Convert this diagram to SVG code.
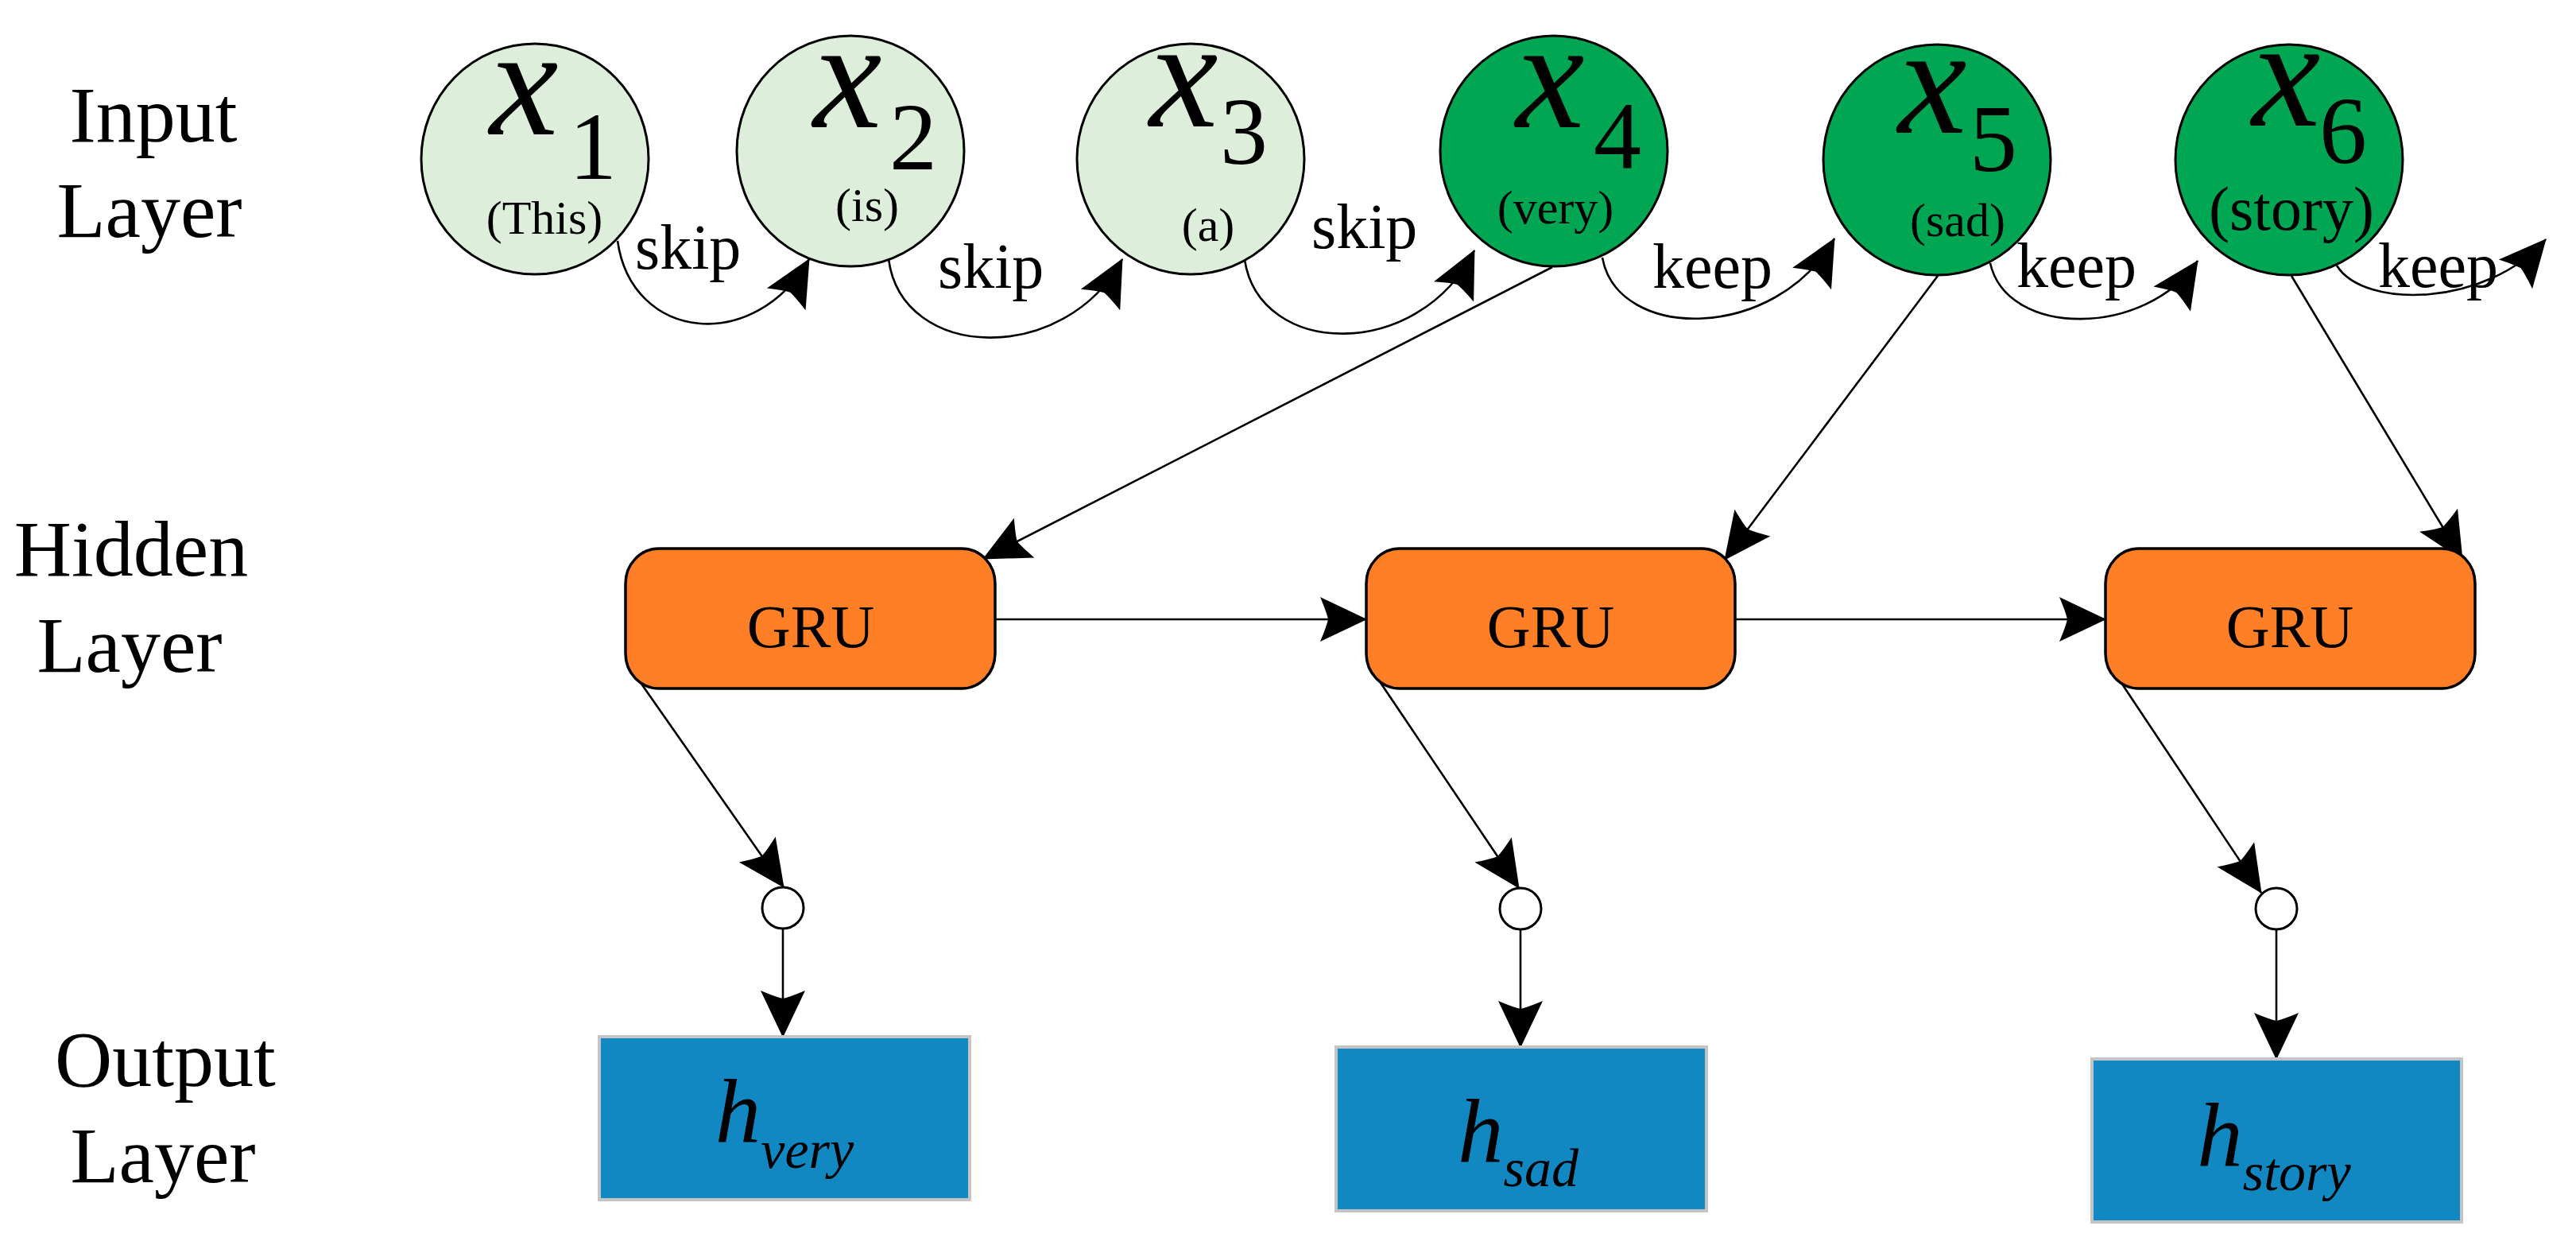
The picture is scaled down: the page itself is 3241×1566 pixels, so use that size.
<svg xmlns="http://www.w3.org/2000/svg" width="3241" height="1566" viewBox="0 0 3241 1566">
<style>
text{font-family:"Liberation Serif","Times New Roman",serif;fill:#000}
.lbl{font-size:100px;text-anchor:middle}
.var{font-size:195px;font-style:italic}
.sub{font-size:120px}
.word{font-size:60px;text-anchor:middle}
.edge{font-size:80px}
.gru{font-size:76px;text-anchor:middle}
.h{font-size:115px;font-style:italic;text-anchor:middle}
.hs{font-size:68px}
.light{fill:#DDEFDB;stroke:#000;stroke-width:3}
.dark{fill:#00A651;stroke:#000;stroke-width:3}
.gbox{fill:#FF7F27;stroke:#000;stroke-width:3.5}
.obox{fill:#1188C2;stroke:#C4C4C4;stroke-width:4}
.dot{fill:#fff;stroke:#000;stroke-width:3}
.con{fill:none;stroke:#000;stroke-width:2.6;marker-end:url(#arr)}
</style>
<defs>
<marker id="arr" markerUnits="userSpaceOnUse" orient="auto" viewBox="-60 -30 62 60" markerWidth="62" markerHeight="60" refX="0" refY="0" overflow="visible">
<path d="M1,0 L-58,-28 Q-50,-9 -48,0 Q-50,9 -58,28 Z" fill="#000"/>
</marker>
</defs>

<g id="layer-labels">
<text class="lbl" x="193" y="178">Input</text>
<text class="lbl" x="188" y="298">Layer</text>
<text class="lbl" x="165" y="724">Hidden</text>
<text class="lbl" x="163" y="845">Layer</text>
<text class="lbl" x="208" y="1366">Output</text>
<text class="lbl" x="205" y="1487">Layer</text>
</g>

<g id="connectors">
<path class="con" d="M777,303 C795,430 950,445 1018,326"/>
<path class="con" d="M1118,326 C1135,455 1340,460 1412,326"/>
<path class="con" d="M1566,327 C1585,450 1785,455 1855,315"/>
<path class="con" d="M2016,324 C2035,430 2235,430 2308,300"/>
<path class="con" d="M2504,331 C2525,425 2700,425 2765,328"/>
<path class="con" d="M2940,334 C2975,390 3130,385 3203,301"/>
<path class="con" d="M1953,336 L1237,703"/>
<path class="con" d="M2438,347 L2170,704"/>
<path class="con" d="M2883,347 L3098,704"/>
<path class="con" d="M1252,779 L1719,779"/>
<path class="con" d="M2183,779 L2649,779"/>
<path class="con" d="M802,853 L986,1116"/>
<path class="con" d="M1731,850 L1911,1117"/>
<path class="con" d="M2663,850 L2845,1123"/>
<path class="con" d="M985,1168 L985,1304"/>
<path class="con" d="M1913,1169 L1913,1317"/>
<path class="con" d="M2864,1169 L2864,1332"/>
<text class="edge" x="799" y="338">skip</text>
<text class="edge" x="1180" y="362">skip</text>
<text class="edge" x="1650" y="312">skip</text>
<text class="edge" x="2079" y="362">keep</text>
<text class="edge" x="2537" y="361">keep</text>
<text class="edge" x="2992" y="361">keep</text>
</g>

<g id="x1">
<ellipse class="light" cx="673" cy="200" rx="143" ry="145"/>
<text class="var" x="616" y="169">x</text>
<text class="sub" x="716" y="225">1</text>
<text class="word" x="685" y="294">(This)</text>
</g>
<g id="x2">
<ellipse class="light" cx="1070" cy="190" rx="143" ry="145"/>
<text class="var" x="1023" y="160">x</text>
<text class="sub" x="1119" y="213">2</text>
<text class="word" x="1091" y="278">(is)</text>
</g>
<g id="x3">
<ellipse class="light" cx="1498" cy="200" rx="143" ry="145"/>
<text class="var" x="1446" y="159">x</text>
<text class="sub" x="1535" y="206">3</text>
<text class="word" x="1520" y="303">(a)</text>
</g>
<g id="x4">
<ellipse class="dark" cx="1955" cy="190" rx="143" ry="145"/>
<text class="var" x="1907" y="160">x</text>
<text class="sub" x="2005" y="211">4</text>
<text class="word" x="1957" y="281">(very)</text>
</g>
<g id="x5">
<ellipse class="dark" cx="2437" cy="201" rx="143" ry="145"/>
<text class="var" x="2388" y="167">x</text>
<text class="sub" x="2478" y="215">5</text>
<text class="word" x="2463" y="297">(sad)</text>
</g>
<g id="x6">
<ellipse class="dark" cx="2880" cy="201" rx="143" ry="145"/>
<text class="var" x="2833" y="158">x</text>
<text class="sub" x="2918" y="205">6</text>
<text class="word" x="2883" y="289" style="font-size:78px">(story)</text>
</g>

<g id="gru1">
<rect class="gbox" x="787" y="690" width="465" height="176" rx="42" ry="44"/>
<text class="gru" x="1020" y="814">GRU</text>
</g>
<g id="gru2">
<rect class="gbox" x="1719" y="690" width="464" height="176" rx="42" ry="44"/>
<text class="gru" x="1951" y="814">GRU</text>
</g>
<g id="gru3">
<rect class="gbox" x="2649" y="690" width="465" height="176" rx="42" ry="44"/>
<text class="gru" x="2881" y="814">GRU</text>
</g>

<g id="dot1"><circle class="dot" cx="985" cy="1142" r="26"/></g>
<g id="dot2"><circle class="dot" cx="1913" cy="1143" r="26"/></g>
<g id="dot3"><circle class="dot" cx="2864" cy="1143" r="26"/></g>

<g id="h-very">
<rect class="obox" x="754" y="1304" width="466" height="205"/>
<text class="h" x="987" y="1437">h<tspan class="hs" dy="32">very</tspan></text>
</g>
<g id="h-sad">
<rect class="obox" x="1681" y="1317" width="466" height="206"/>
<text class="h" x="1910" y="1462">h<tspan class="hs" dy="30">sad</tspan></text>
</g>
<g id="h-story">
<rect class="obox" x="2632" y="1332" width="465" height="205"/>
<text class="h" x="2861" y="1467">h<tspan class="hs" dy="30">story</tspan></text>
</g>
</svg>
